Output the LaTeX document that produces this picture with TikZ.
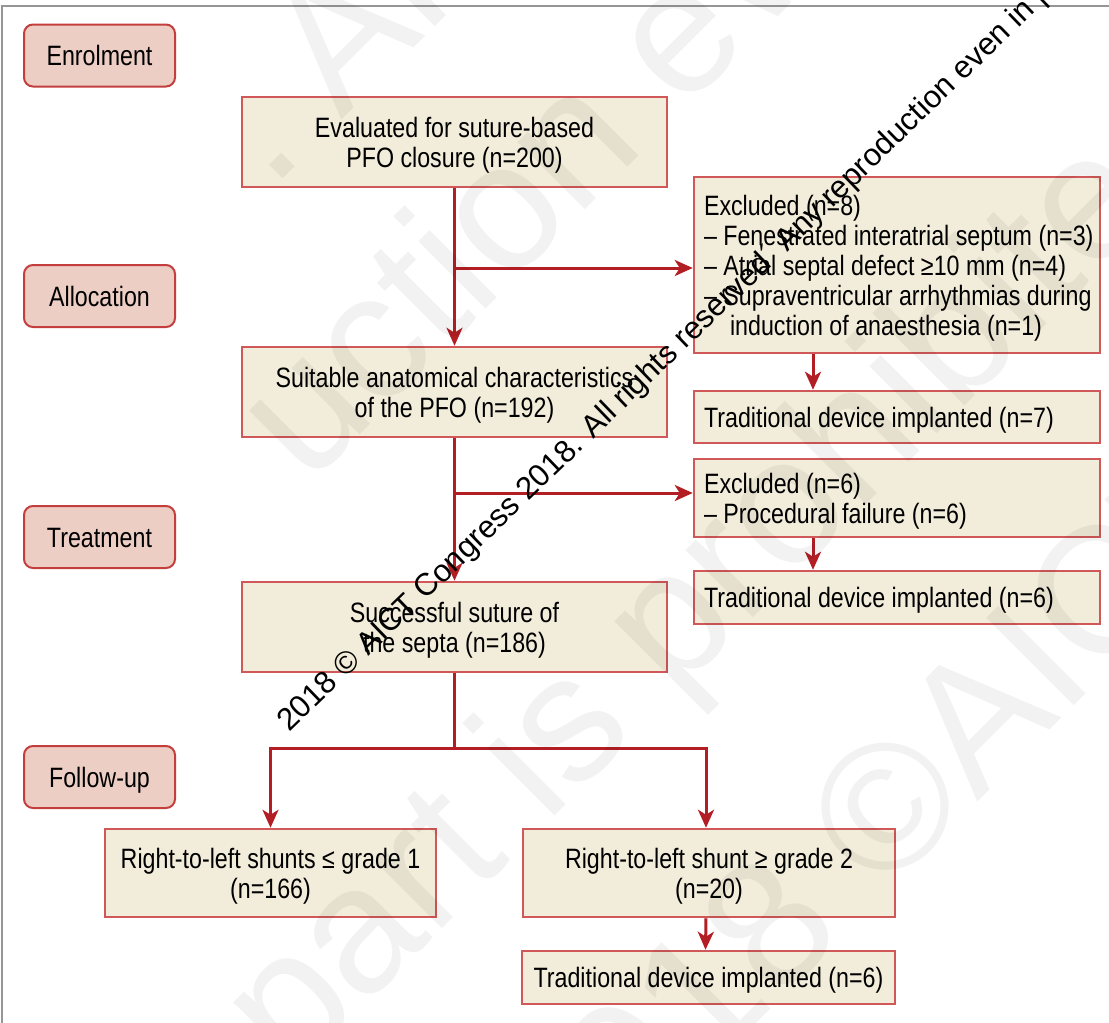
\documentclass[tikz,border=0pt]{standalone}
\usepackage{fontspec}
\setmainfont{Liberation Sans}[FakeStretch=0.83]
\newfontfamily\wmfont{Liberation Sans}
\usetikzlibrary{arrows.meta}
\definecolor{lblfill}{RGB}{237,206,197}
\definecolor{lbldraw}{RGB}{196,62,62}
\definecolor{boxfill}{RGB}{242,237,218}
\definecolor{boxdraw}{RGB}{208,88,88}
\definecolor{arr}{RGB}{178,30,36}
\definecolor{frame}{RGB}{150,150,150}
\newcommand{\fs}{\rule{0pt}{26pt}}
\newcommand{\lline}[1]{\makebox[386pt][l]{#1}}
\begin{document}
\begin{tikzpicture}[x=1pt,y=-1pt,
  txt/.style={font=\fontsize{28}{30}\selectfont},
  one/.style={text height=20pt, text depth=0pt},
  lbl/.style={txt, one, draw=lbldraw, fill=lblfill, line width=2pt, rounded corners=9pt,
    minimum width=151pt, minimum height=62pt, inner sep=0pt},
  cbox/.style={txt, draw=boxdraw, fill=boxfill, line width=2.5pt, inner sep=0pt, align=center},
  lbox/.style={cbox, minimum width=406pt},
  flow/.style={draw=arr, line width=3pt},
  arrow/.style={flow, -{Stealth[length=18pt,width=16pt,inset=5pt]}},
  wmbig/.style={font=\wmfont\fontsize{180}{180}\selectfont, text=black, text opacity=0.05,
    rotate=45, anchor=base west, inner sep=0pt},
  wmsmall/.style={font=\wmfont\fontsize{31.3}{31.3}\selectfont, text=black,
    rotate=44, anchor=base west, inner sep=0pt}
]
\useasboundingbox (0,0) rectangle (1109,1023);
\fill[white] (0,0) rectangle (1109,1023);
\draw[frame, line width=2pt] (1.5,1030) -- (1.5,5.5) -- (1115,5.5);

% stage labels
\node[lbl] (enrol)  at (99.5,55.5) {Enrolment};
\node[lbl] (alloc)  at (99.5,296)  {Allocation};
\node[lbl] (treat)  at (99.5,537)  {Treatment};
\node[lbl] (follow) at (99.5,777)  {Follow-up};

% main column
\node[cbox, minimum width=425pt, minimum height=90pt] (eval) at (454.5,142)
  {\fs Evaluated for suture-based\\PFO closure (n=200)};
\node[cbox, minimum width=425pt, minimum height=90pt] (suit) at (454.5,392)
  {\fs Suitable anatomical characteristics\\of the PFO (n=192)};
\node[cbox, minimum width=425pt, minimum height=90pt] (succ) at (454.5,627)
  {\fs Successful suture of\\the septa (n=186)};

% right column
\node[lbox, minimum height=176pt] (excl1) at (897,265)
  {\lline{\fs Excluded (n=8)}\\
   \lline{– Fenestrated interatrial septum (n=3)}\\
   \lline{– Atrial septal defect ≥10 mm (n=4)}\\
   \lline{– Supraventricular arrhythmias during}\\
   \lline{\hspace*{26pt}induction of anaesthesia (n=1)}};
\node[lbox, one, minimum height=52pt] (trad7) at (897,417)
  {\lline{Traditional device implanted (n=7)}};
\node[lbox, minimum height=78pt] (excl2) at (897,498)
  {\lline{\fs Excluded (n=6)}\\\lline{– Procedural failure (n=6)}};
\node[lbox, one, minimum height=53pt] (trad6a) at (897,597.5)
  {\lline{Traditional device implanted (n=6)}};

% follow-up
\node[cbox, minimum width=331pt, minimum height=88pt] (shunt1) at (270.5,873)
  {\fs Right-to-left shunts ≤ grade 1\\(n=166)};
\node[cbox, minimum width=372pt, minimum height=88pt] (shunt2) at (709,873)
  {\fs Right-to-left shunt ≥ grade 2\\(n=20)};
\node[cbox, one, minimum width=373pt, minimum height=53pt] (trad6b) at (708.5,977.5)
  {Traditional device implanted (n=6)};

% connectors
\coordinate (b1) at (454.5,268);
\coordinate (b2) at (454.5,493);
\coordinate (split) at (454.5,748);
\draw[arrow] (eval.south) -- (suit.north);
\draw[arrow] (b1) -- (b1 -| excl1.west);
\draw[arrow] (suit.south) -- (succ.north);
\draw[arrow] (b2) -- (b2 -| excl2.west);
\draw[arrow] ([xshift=-84pt]excl1.south) -- ([xshift=-84pt]trad7.north);
\draw[arrow] ([xshift=-84pt]excl2.south) -- ([xshift=-84pt]trad6a.north);
\draw[flow] (succ.south) -- (split);
\draw[arrow] (split) -| (shunt1.north);
\draw[arrow] (split) -| ([xshift=-3pt]shunt2.north);
\draw[arrow] ([xshift=-3pt]shunt2.south) -- ([xshift=-3pt]trad6b.north);

% watermarks
\begin{scope}
\clip (0,0) rectangle (1109,1023);
\node[wmbig] (wmP) at (271,191) {.\hspace{0.278em}Any reprod};
\node[wmbig] (wmA) at (308,487) {uction even in};
\node[wmbig] (wmB) at (292,1079) {part is prohibited};
\node[wmbig, anchor=base east] (wmC1) at (977,803) {2018 ©\hspace{0.278em}};
\node[wmbig] (wmC2) at (977,803) {AICT};
\node[wmsmall] (wms) at (289,733)
  {2018 © AICT Congress 2018. All rights reserved´ Any reproduction even in part is prohibited};
\end{scope}
\end{tikzpicture}
\end{document}
